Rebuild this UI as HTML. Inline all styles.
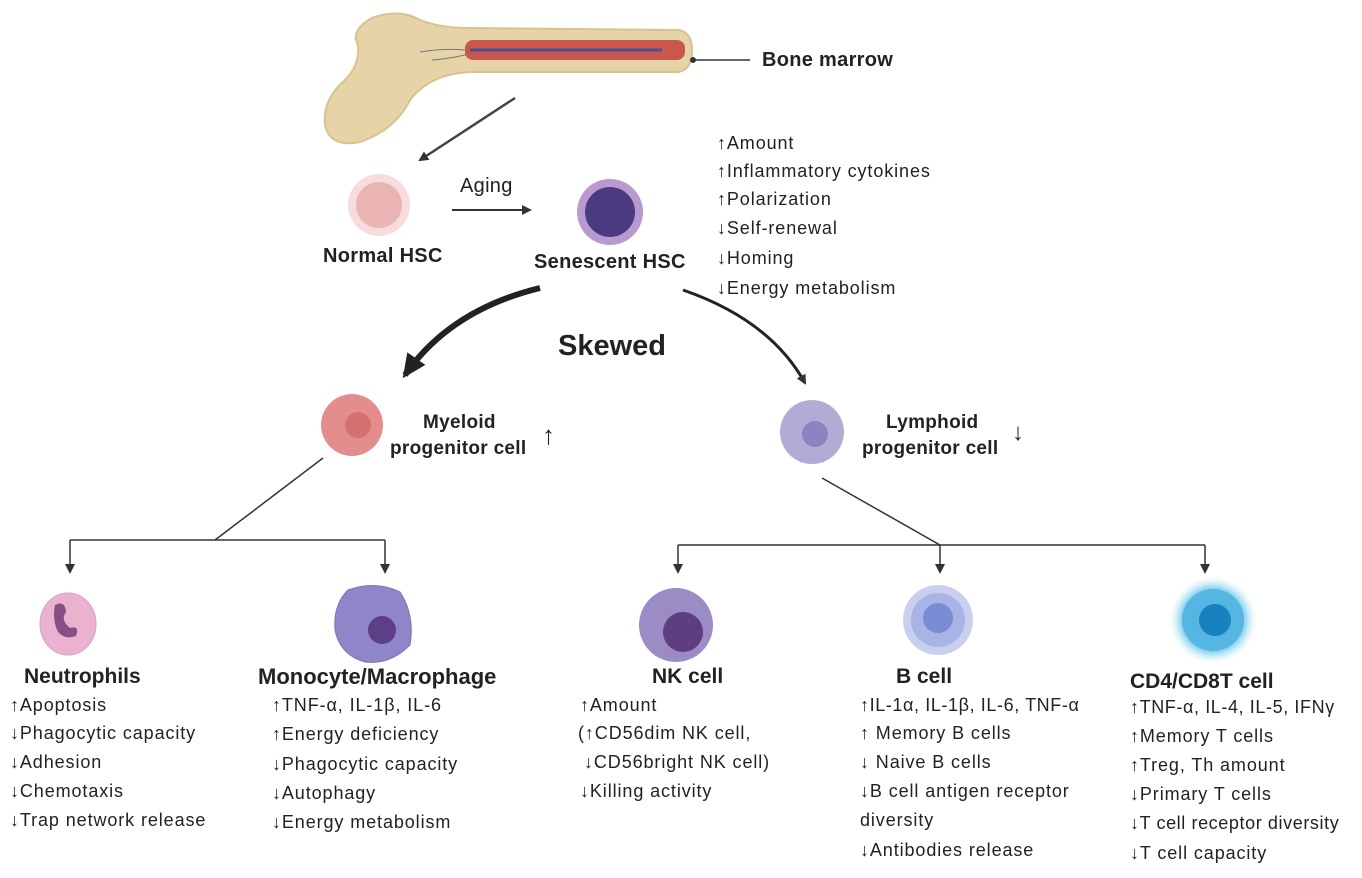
<!DOCTYPE html>
<html><head><meta charset="utf-8"><style>
body{margin:0;width:1362px;height:878px;background:#fff;position:relative;overflow:hidden;font-family:"Liberation Sans","DejaVu Sans",sans-serif;color:#222}
.t{position:absolute;white-space:nowrap;font-size:18px;line-height:20px;letter-spacing:0.9px}
.b{font-weight:bold;font-size:19px;letter-spacing:0.3px}
.h{font-weight:bold;font-size:21px;line-height:22px;letter-spacing:0}
</style></head><body>
<svg width="1362" height="878" style="position:absolute;left:0;top:0">
<defs>
<marker id="a" markerWidth="10" markerHeight="10" refX="8" refY="5" orient="auto" markerUnits="userSpaceOnUse"><path d="M0,0L10,5L0,10z" fill="#333"/></marker>
<marker id="A" markerWidth="24" markerHeight="22" refX="20" refY="11" orient="auto" markerUnits="userSpaceOnUse"><path d="M0,0L24,11L0,22z" fill="#222"/></marker>
<radialGradient id="g"><stop offset="0.7" stop-color="#7fd0ee"/><stop offset="1" stop-color="#d8f1fb" stop-opacity="0"/></radialGradient>
</defs>
<path d="M372,18 Q400,8 420,20 Q440,28 470,28 L678,30 Q692,32 692,50 Q692,70 678,72 L470,72 Q430,74 410,100 Q395,130 360,142 Q330,148 325,125 Q322,100 345,80 Q360,65 358,45 Q350,30 372,18z" fill="#e6d4a8" stroke="#d8c28e" stroke-width="2"/>
<rect x="465" y="40" width="220" height="20" rx="8" fill="#c9574c"/>
<line x1="470" y1="50" x2="662" y2="50" stroke="#4a4e9a" stroke-width="3"/>
<path d="M420,52 Q445,48 465,50 M432,60 Q455,58 468,54" stroke="#777" fill="none"/>
<line x1="693" y1="60" x2="750" y2="60" stroke="#333" stroke-width="1.5"/><circle cx="693" cy="60" r="3" fill="#333"/>
<line x1="515" y1="98" x2="420" y2="160" stroke="#444" stroke-width="2.5" marker-end="url(#a)"/>
<circle cx="379" cy="205" r="31" fill="#f6dcdc"/><circle cx="379" cy="205" r="23" fill="#eab4b4"/>
<line x1="452" y1="210" x2="530" y2="210" stroke="#333" stroke-width="2" marker-end="url(#a)"/>
<circle cx="610" cy="212" r="33" fill="#b99ad0"/><circle cx="610" cy="212" r="25" fill="#4a3a80"/>
<path d="M540,288 Q450,310 405,375" stroke="#222" stroke-width="6" fill="none" marker-end="url(#A)"/>
<path d="M683,290 Q770,320 805,383" stroke="#222" stroke-width="3" fill="none" marker-end="url(#a)"/>
<circle cx="352" cy="425" r="31" fill="#e48d8d"/><circle cx="358" cy="425" r="13" fill="#d77070"/>
<circle cx="812" cy="432" r="32" fill="#b2abd6"/><circle cx="815" cy="434" r="13" fill="#8d83c0"/>
<g stroke="#333" stroke-width="1.5" fill="none">
<line x1="323" y1="458" x2="215" y2="540"/>
<line x1="70" y1="540" x2="385" y2="540"/>
<line x1="70" y1="540" x2="70" y2="572" marker-end="url(#a)"/>
<line x1="385" y1="540" x2="385" y2="572" marker-end="url(#a)"/>
<line x1="822" y1="478" x2="940" y2="545"/>
<line x1="678" y1="545" x2="1205" y2="545"/>
<line x1="678" y1="545" x2="678" y2="572" marker-end="url(#a)"/>
<line x1="940" y1="545" x2="940" y2="572" marker-end="url(#a)"/>
<line x1="1205" y1="545" x2="1205" y2="572" marker-end="url(#a)"/>
</g>
<ellipse cx="68" cy="624" rx="28" ry="31" fill="#eab2cf" stroke="#d9a0c0"/>
<path d="M55,605 Q65,600 66,612 Q60,620 70,628 Q80,625 76,636 Q65,640 58,632 Q52,620 55,605z" fill="#8a4d84"/>
<path d="M348,590 Q375,580 400,592 Q415,615 410,645 Q390,665 365,662 Q340,655 335,630 Q333,605 348,590z" fill="#8e86c8" stroke="#7b72b8"/>
<circle cx="382" cy="630" r="14" fill="#5c3f86"/>
<circle cx="676" cy="625" r="37" fill="#9b8cc6"/><circle cx="683" cy="632" r="20" fill="#5e3e7e"/>
<circle cx="938" cy="620" r="35" fill="#c9d0ef"/><circle cx="938" cy="620" r="27" fill="#a9b4e6"/><circle cx="938" cy="618" r="15" fill="#7b8bd4"/>
<circle cx="1213" cy="620" r="44" fill="url(#g)"/><circle cx="1213" cy="620" r="31" fill="#55b6e2"/><circle cx="1215" cy="620" r="16" fill="#1682bf"/>
</svg>
<div class="t b" style="left:762px;top:50px;font-size:20px">Bone marrow</div>
<div class="t b" style="left:323px;top:246px;font-size:20px">Normal HSC</div>
<div class="t" style="left:460px;top:176px;font-size:20px;letter-spacing:0.3px">Aging</div>
<div class="t b" style="left:534px;top:252px;font-size:20px">Senescent HSC</div>
<div class="t" style="left:717px;top:133px">↑Amount</div>
<div class="t" style="left:717px;top:161px">↑Inflammatory cytokines</div>
<div class="t" style="left:717px;top:189px">↑Polarization</div>
<div class="t" style="left:717px;top:218px">↓Self-renewal</div>
<div class="t" style="left:717px;top:248px">↓Homing</div>
<div class="t" style="left:717px;top:278px">↓Energy metabolism</div>
<div class="t" style="left:558px;top:330px;font-size:29px;line-height:32px;font-weight:bold;letter-spacing:0">Skewed</div>
<div class="t b" style="left:423px;top:413px">Myeloid</div>
<div class="t b" style="left:390px;top:439px">progenitor cell</div>
<div class="t" style="left:542px;top:421px;font-size:26px;line-height:28px;font-weight:bold">↑</div>
<div class="t b" style="left:886px;top:413px">Lymphoid</div>
<div class="t b" style="left:862px;top:439px">progenitor cell</div>
<div class="t" style="left:1012px;top:419px;font-size:24px;line-height:28px;font-weight:bold">↓</div>
<div class="t h" style="left:24px;top:666px">Neutrophils</div>
<div class="t h" style="left:258px;top:666px;font-size:22px">Monocyte/Macrophage</div>
<div class="t h" style="left:652px;top:666px">NK cell</div>
<div class="t h" style="left:896px;top:666px">B cell</div>
<div class="t h" style="left:1130px;top:671px">CD4/CD8T cell</div>
<div class="t" style="left:10px;top:695px">↑Apoptosis</div>
<div class="t" style="left:10px;top:723px">↓Phagocytic capacity</div>
<div class="t" style="left:10px;top:752px">↓Adhesion</div>
<div class="t" style="left:10px;top:781px">↓Chemotaxis</div>
<div class="t" style="left:10px;top:810px">↓Trap network release</div>
<div class="t" style="left:272px;top:695px">↑TNF-α, IL-1β, IL-6</div>
<div class="t" style="left:272px;top:724px">↑Energy deficiency</div>
<div class="t" style="left:272px;top:754px">↓Phagocytic capacity</div>
<div class="t" style="left:272px;top:783px">↓Autophagy</div>
<div class="t" style="left:272px;top:812px">↓Energy metabolism</div>
<div class="t" style="left:580px;top:695px">↑Amount</div>
<div class="t" style="left:578px;top:723px">(↑CD56dim NK cell,</div>
<div class="t" style="left:584px;top:752px">↓CD56bright NK cell)</div>
<div class="t" style="left:580px;top:781px">↓Killing activity</div>
<div class="t" style="left:860px;top:695px;letter-spacing:0.6px">↑IL-1α, IL-1β, IL-6, TNF-α</div>
<div class="t" style="left:860px;top:723px">↑ Memory B cells</div>
<div class="t" style="left:860px;top:752px">↓ Naive B cells</div>
<div class="t" style="left:860px;top:781px">↓B cell antigen receptor</div>
<div class="t" style="left:860px;top:810px">diversity</div>
<div class="t" style="left:860px;top:840px">↓Antibodies release</div>
<div class="t" style="left:1130px;top:697px;letter-spacing:0.6px">↑TNF-α, IL-4, IL-5, IFNγ</div>
<div class="t" style="left:1130px;top:726px">↑Memory T cells</div>
<div class="t" style="left:1130px;top:755px">↑Treg, Th amount</div>
<div class="t" style="left:1130px;top:784px">↓Primary T cells</div>
<div class="t" style="left:1130px;top:813px;letter-spacing:0.6px">↓T cell receptor diversity</div>
<div class="t" style="left:1130px;top:843px">↓T cell capacity</div>
</body></html>
